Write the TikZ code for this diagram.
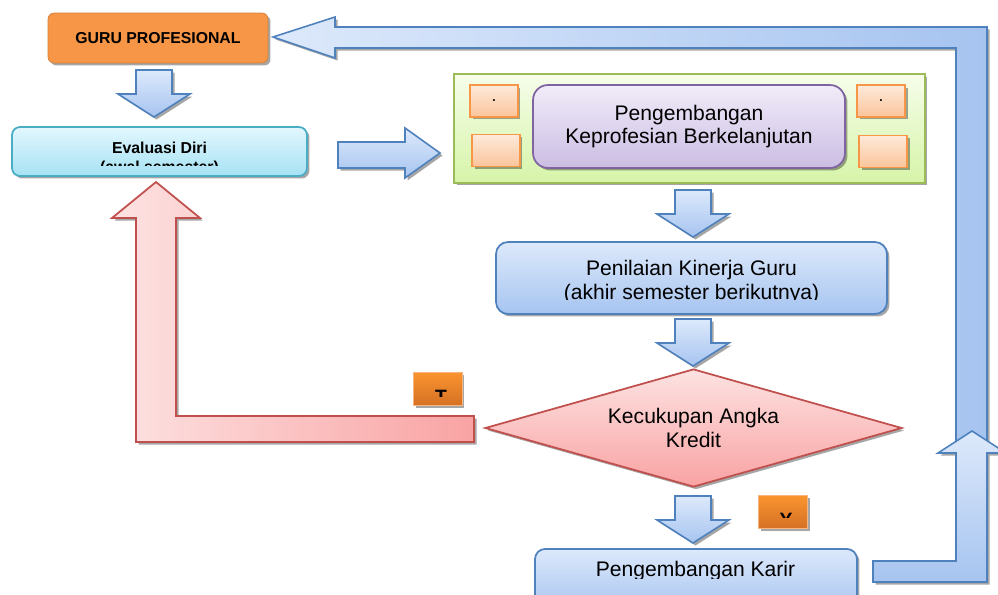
\documentclass[tikz,border=0pt]{standalone}
\usepackage{fontspec}
\setmainfont{Liberation Sans}
\usetikzlibrary{shapes.geometric, shadows}
\definecolor{arrowblue}{RGB}{79,129,189}
\definecolor{lightblue}{RGB}{221,233,251}
\definecolor{midblue}{RGB}{166,196,240}
\definecolor{arrowred}{RGB}{192,80,77}
\definecolor{lightred}{RGB}{253,226,226}
\definecolor{midred}{RGB}{249,163,163}
\definecolor{boxorange}{RGB}{247,150,70}
\definecolor{answertop}{RGB}{250,148,48}
\definecolor{answerbot}{RGB}{212,112,36}
\definecolor{peachtop}{RGB}{253,234,218}
\definecolor{peachbot}{RGB}{251,196,155}
\definecolor{leafgreen}{RGB}{155,187,89}
\definecolor{greentop}{RGB}{246,253,234}
\definecolor{greenbot}{RGB}{214,244,168}
\definecolor{lilac}{RGB}{128,100,162}
\definecolor{lilactop}{RGB}{241,236,249}
\definecolor{lilacbot}{RGB}{203,189,227}
\definecolor{evalteal}{RGB}{75,172,198}
\definecolor{cyantop}{RGB}{226,247,253}
\definecolor{cyanbot}{RGB}{166,226,244}

\begin{document}
\begin{tikzpicture}[x=0.02cm, y=-0.02cm,
    shadowed/.style={drop shadow={shadow xshift=0.05cm, shadow yshift=-0.05cm, fill=black, opacity=0.35}},
    blockarrow/.style={draw=arrowblue, line width=0.9pt, top color=lightblue, bottom color=midblue, shadowed},
    bluebox/.style={draw=arrowblue, line width=1pt, rounded corners=0.24cm, top color=lightblue, bottom color=midblue, shadowed},
    notebox/.style={draw=boxorange, line width=1pt, top color=peachtop, bottom color=peachbot, minimum width=0.96cm, minimum height=0.64cm, inner sep=0pt, shadowed},
    answerbox/.style={draw=boxorange!70!white, top color=answertop, bottom color=answerbot, minimum width=0.98cm, minimum height=0.66cm, shadowed},
    bodytext/.style={font=\fontsize{12}{13.6}\selectfont, align=center},
    boldtext/.style={font=\fontsize{9}{10.8}\selectfont\bfseries, align=center}]
  \clip (0,0) rectangle (998,595);
  % loop back to the top
  \draw[blockarrow, left color=lightblue, right color=midblue] (273,37) -- (335,17) -- (335,27) -- (987,27) -- (987,450) -- (956,450) -- (956,48) -- (335,48) -- (335,58) -- cycle;
  \draw[blockarrow] (972,431) -- (1006,453) -- (987,453) -- (987,582) -- (873,582) -- (873,561) -- (956,561) -- (956,453) -- (938,453) -- cycle;
  % not enough credit: back to self evaluation
  \draw[draw=arrowred, line width=1pt, left color=lightred, right color=midred, shadowed] (156,182) -- (200,218) -- (176,218) -- (176,416) -- (474,416) -- (474,442) -- (136,442) -- (136,218) -- (112,218) -- cycle;
  % straight block arrows
  \foreach \ax/\ay in {154/70, 693/190, 693/319, 693/496}
    \draw[blockarrow] (\ax-18,\ay) -- (\ax+18,\ay) -- (\ax+18,\ay+24) -- (\ax+36,\ay+24) -- (\ax,\ay+47) -- (\ax-36,\ay+24) -- (\ax-18,\ay+24) -- cycle;
  \draw[blockarrow] (338,142) -- (405,142) -- (405,128) -- (440,153) -- (405,178) -- (405,168) -- (338,168) -- cycle;

  \node[draw=boxorange!85!black, fill=boxorange, rounded corners=0.12cm, minimum width=4.4cm, minimum height=1cm, shadowed, boldtext] (guru) at (158,38) {GURU PROFESIONAL};

  \node[draw=evalteal, line width=1pt, rounded corners=0.16cm, top color=cyantop, bottom color=cyanbot, minimum width=5.9cm, minimum height=0.98cm, shadowed] (eval) at (159.5,151.5) {};
  \begin{scope}
    \clip (12,127) rectangle (307,165);
    \node[boldtext] (evaltext) at (159.5,158.5) {Evaluasi Diri\\(awal semester)};
  \end{scope}

  % PKB panel
  \node[draw=leafgreen, line width=1.2pt, top color=greentop, bottom color=greenbot, minimum width=9.42cm, minimum height=2.18cm, shadowed] (pkbframe) at (689.5,128.5) {};
  \node[draw=lilac, line width=1pt, rounded corners=0.3cm, top color=lilactop, bottom color=lilacbot, minimum width=6.24cm, minimum height=1.66cm, shadowed, bodytext] (pkb) at (689,126.5) {Pengembangan\\Keprofesian Berkelanjutan};
  \node[notebox] (noteA) at (494,101) {.};
  \node[notebox] (noteB) at (496,150.5) {};
  \node[notebox] (noteC) at (881,101) {.};
  \node[notebox] (noteD) at (883,151.5) {};

  \node[bluebox, minimum width=7.82cm, minimum height=1.44cm] (pkg) at (691.5,278) {};
  \begin{scope}
    \clip (496,242) rectangle (887,299);
    \node[bodytext] (pkgtext) at (691.5,282) {Penilaian Kinerja Guru\\(akhir semester berikutnya)};
  \end{scope}

  \node[diamond, aspect=3.53, draw=arrowred, line width=1pt, top color=lightred, bottom color=midred, minimum width=8.34cm, minimum height=2.36cm, inner sep=0pt, shadowed, bodytext] (kredit) at (693.5,428) {Kecukupan Angka\\Kredit};

  \node[bluebox, rounded corners=0.2cm, minimum width=6.44cm, minimum height=1.24cm] (karir) at (696,580) {};
  \begin{scope}
    \clip (535,549) rectangle (857,578);
    \node[bodytext, anchor=base] (karirtext) at (695.5,576) {Pengembangan Karir};
  \end{scope}

  % answer labels
  \node[answerbox] (tidak) at (437.5,389) {};
  \begin{scope}
    \clip (413,373) rectangle (462,396);
    \node[font=\fontsize{11}{13}\selectfont\bfseries, anchor=base] (tidaktext) at (441,403) {T};
  \end{scope}
  \node[answerbox] (ya) at (782.5,512) {};
  \begin{scope}
    \clip (758,495) rectangle (807,517);
    \node[font=\fontsize{11}{13}\selectfont\bfseries, anchor=base] (yatext) at (786,526) {Y};
  \end{scope}
\end{tikzpicture}
\end{document}
